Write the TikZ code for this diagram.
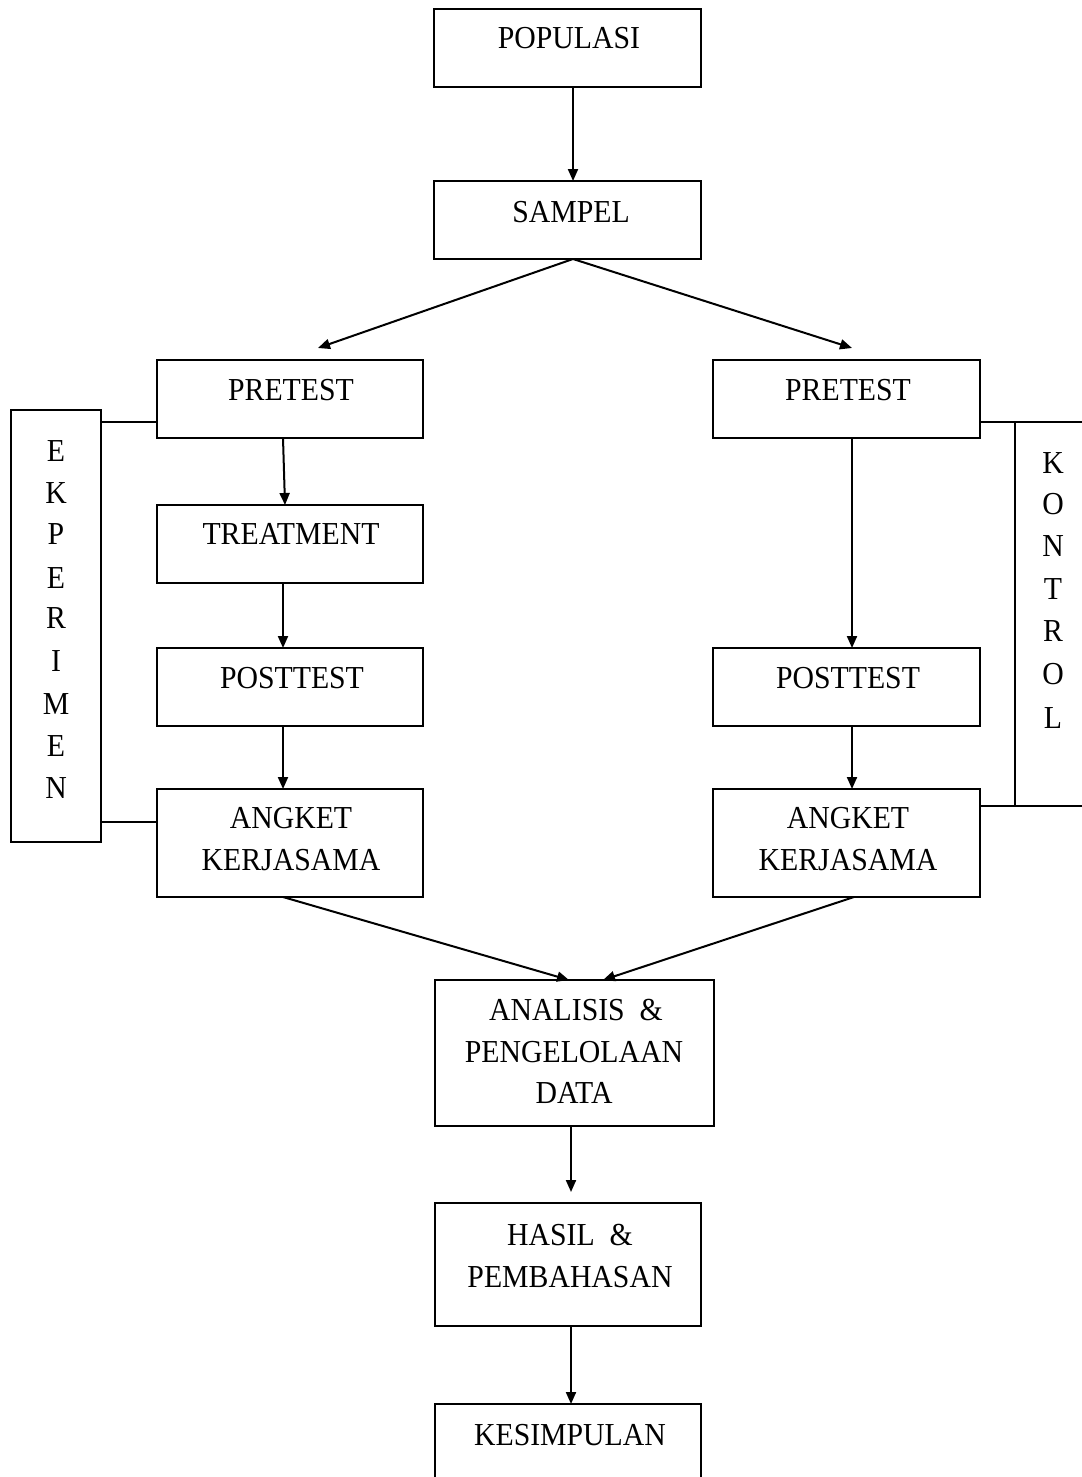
\documentclass[tikz,border=0pt]{standalone}
\usepackage{fontspec}
\setmainfont{Liberation Serif}[FakeStretch=0.93]
\usetikzlibrary{arrows.meta}
\begin{document}
\begin{tikzpicture}[x=1pt,y=-1pt,
  box/.style={draw,line width=2.1pt,rectangle,inner sep=0pt,outer sep=0pt},
  sidebox/.style={draw,line width=1.4pt,rectangle,inner sep=0pt,outer sep=0pt},
  txt/.style={inner sep=0pt,anchor=base,font=\fontsize{32}{38}\selectfont},
  arr/.style={line width=2pt,-{Triangle[length=12pt,width=10pt]}},
  side/.style={line width=1.4pt}]
\useasboundingbox (0,0) rectangle (1081,1477);
% boxes
\node[box,minimum width=267pt,minimum height=78pt] (pop) at (567.5,48) {};
\node[box,minimum width=267pt,minimum height=78pt] (sam) at (567.5,220) {};
\node[box,minimum width=266pt,minimum height=78pt] (preA) at (290,399) {};
\node[box,minimum width=266pt,minimum height=78pt] (treat) at (290,544) {};
\node[box,minimum width=266pt,minimum height=78pt] (postA) at (290,687) {};
\node[box,minimum width=266pt,minimum height=108pt] (angA) at (290,843) {};
\node[box,minimum width=267pt,minimum height=78pt] (preB) at (846.5,399) {};
\node[box,minimum width=267pt,minimum height=78pt] (postB) at (846.5,687) {};
\node[box,minimum width=267pt,minimum height=108pt] (angB) at (846.5,843) {};
\node[box,minimum width=279pt,minimum height=146pt] (ana) at (574.5,1053) {};
\node[box,minimum width=266pt,minimum height=123pt] (has) at (568,1264.5) {};
\node[box,minimum width=266pt,minimum height=96pt] (kes) at (568,1452) {};
\node[box,minimum width=90pt,minimum height=432pt] (eks) at (56,626) {};
\node[sidebox,minimum width=95pt,minimum height=384pt] (kon) at (1062.5,614) {};
% texts
\node[txt] (popT) at (569,49) {POPULASI};
\node[txt] (samT) at (571,222) {SAMPEL};
\node[txt] (preAT) at (291,400) {PRETEST};
\node[txt] (treatT) at (291,544) {TREATMENT};
\node[txt] (postAT) at (292,688) {POSTTEST};
\node[txt] (angAT1) at (291,828) {ANGKET};
\node[txt] (angAT2) at (291,870) {KERJASAMA};
\node[txt] (preBT) at (848,400) {PRETEST};
\node[txt] (postBT) at (848,688) {POSTTEST};
\node[txt] (angBT1) at (848,828) {ANGKET};
\node[txt] (angBT2) at (848,870) {KERJASAMA};
\node[txt] (anaT1) at (576,1020) {ANALISIS \ \&};
\node[txt] (anaT2) at (574,1062) {PENGELOLAAN};
\node[txt] (anaT3) at (574,1103) {DATA};
\node[txt] (hasT1) at (570,1245) {HASIL \ \&};
\node[txt] (hasT2) at (570,1287) {PEMBAHASAN};
\node[txt] (kesT) at (570,1445) {KESIMPULAN};
\foreach \l/\yy [count=\i] in {E/450,K/492,P/533,E/577,R/617,I/660,M/703,E/745,N/787}
  \node[txt] (eksL\i) at (56,\yy+11) {\l};
\foreach \l/\yy [count=\i] in {K/462,O/503,N/545,T/588,R/630,O/673,L/717}
  \node[txt] (konL\i) at (1053,\yy+11) {\l};
% arrows
\draw[arr] ([xshift=5.5pt]pop.south) -- ([xshift=5.5pt]sam.north);
\draw[arr] ([xshift=5.5pt]sam.south) -- ([xshift=28pt,yshift=12pt]preA.north);
\draw[arr] ([xshift=5.5pt]sam.south) -- ([xshift=5.5pt,yshift=12pt]preB.north);
\draw[arr] ([xshift=-7pt]preA.south) -- ([xshift=-5pt]treat.north);
\draw[arr] ([xshift=-7pt]treat.south) -- ([xshift=-7pt]postA.north);
\draw[arr] ([xshift=-7pt]postA.south) -- ([xshift=-7pt]angA.north);
\draw[arr] ([xshift=5.5pt]preB.south) -- ([xshift=5.5pt]postB.north);
\draw[arr] ([xshift=5.5pt]postB.south) -- ([xshift=5.5pt]angB.north);
\draw[arr] ([xshift=-7pt]angA.south) -- ([xshift=-5.5pt]ana.north);
\draw[arr] ([xshift=7.5pt]angB.south) -- ([xshift=28.5pt]ana.north);
\draw[arr] ([xshift=-3.5pt]ana.south) -- ([xshift=3pt,yshift=11pt]has.north);
\draw[arr] ([xshift=3pt]has.south) -- ([xshift=3pt]kes.north);
% side connectors
\path ([yshift=-23pt]preA.west) coordinate (c1);
\draw[side] (c1) -- (c1 -| eks.east);
\path ([yshift=21pt]angA.west) coordinate (c2);
\draw[side] (c2) -- (c2 -| eks.east);
\path ([yshift=-23pt]preB.east) coordinate (c3);
\draw[side] (c3) -- (c3 -| kon.west);
\path ([yshift=37pt]angB.east) coordinate (c4);
\draw[side] (c4) -- (c4 -| kon.west);
\end{tikzpicture}
\end{document}
